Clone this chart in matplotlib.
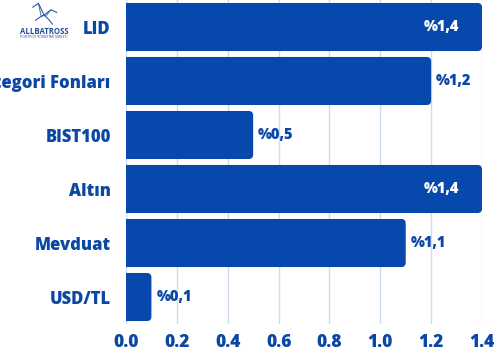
import matplotlib
matplotlib.use("Agg")
import matplotlib.pyplot as plt
from matplotlib.patches import FancyBboxPatch

categories = ["LID", "Kategori Fonları", "BIST100", "Altın", "Mevduat", "USD/TL"]
values = [1.4, 1.2, 0.5, 1.4, 1.1, 0.1]
value_labels = ["%1,4", "%1,2", "%0,5", "%1,4", "%1,1", "%0,1"]
xticks = [0.0, 0.2, 0.4, 0.6, 0.8, 1.0, 1.2, 1.4]
xtick_labels = ["0.0", "0.2", "0.4", "0.6", "0.8", "1.0", "1.2", "1.4"]

BLUE = "#0748ac"
TXT = "#0b47a5"
GRID = "#cfdcf0"
WT = 800

plt.rcParams['font.family'] = ['Open Sans', 'DejaVu Sans']

W, H = 497, 356
fig = plt.figure(figsize=(W / 100, H / 100), dpi=100)
ax = fig.add_axes([126 / W, 1 - 324 / H, (482 - 126) / W, 324 / H])

ypos = list(range(len(categories)))
bars = ax.barh(ypos, values, height=0.89, color=BLUE)
ax.set_ylim(len(categories) - 0.5, -0.5)
ax.set_xlim(0, 1.4)

# replace bars with rounded-corner versions
px_x = (482 - 126) / 1.4
px_y = 54.0
r = 4.5 / px_x
for b in bars:
    x0, y0 = b.get_x(), b.get_y()
    w, h = b.get_width(), b.get_height()
    b.set_visible(False)
    fb = FancyBboxPatch((x0 - 0.05, y0), w + 0.05, h,
                        boxstyle=f"round,pad=0,rounding_size={r}",
                        mutation_aspect=px_x / px_y,
                        facecolor=BLUE, edgecolor="none", zorder=3)
    ax.add_patch(fb)

ax.set_xticks(xticks)
ax.set_xticklabels(xtick_labels)
ax.set_yticks(ypos)
ax.set_yticklabels(categories)
ax.grid(axis='x', color=GRID, linewidth=1.0, zorder=0)
ax.set_axisbelow(True)
for s in ax.spines.values():
    s.set_visible(False)
ax.tick_params(axis='both', length=0, colors=TXT)
ax.tick_params(axis='y', pad=11)
ax.tick_params(axis='x', pad=7)
for lab in ax.get_xticklabels():
    lab.set_fontsize(12.5)
    lab.set_fontweight(WT)
    lab.set_color(TXT)
for lab in ax.get_yticklabels():
    lab.set_fontsize(12)
    lab.set_fontweight(WT)
    lab.set_color(TXT)

vmax = max(values)
for y, v, t in zip(ypos, values, value_labels):
    if v >= vmax:
        ax.text(v - 23 / px_x, y, t, ha='right', va='center', color='white',
                fontsize=10.5, fontweight=WT, zorder=5)
    else:
        ax.text(v + 5 / px_x, y, t, ha='left', va='center', color=TXT,
                fontsize=10.5, fontweight=WT, zorder=5)

# logo: simple stylised bird + text
lx = fig.add_axes([30 / W, 1 - 28 / H, 28 / W, 26 / H])
lx.axis('off')
lx.set_xlim(0, 10)
lx.set_ylim(0, 10)
lx.plot([1, 3, 5, 7.5, 9.5], [8, 9.5, 5, 7, 6], color="#2a5aa8", lw=0.8)
lx.plot([2, 4, 5, 6.5, 8], [3, 4.5, 5, 3.5, 1.5], color="#2a5aa8", lw=0.8)
lx.plot([3, 4, 6, 7.5], [9.5, 4.5, 5, 7], color="#2a5aa8", lw=0.6)
fig.text(44 / W, 1 - 31 / H, "ALLBATROSS", ha='center', va='center',
         fontsize=5.6, color="#1f4f9a", fontweight='bold')
fig.text(44 / W, 1 - 37 / H, "PORTFÖY YÖNETİMİ ŞİRKETİ", ha='center', va='center',
         fontsize=2.6, color="#1f4f9a")

fig.savefig("out.png", dpi=100)
